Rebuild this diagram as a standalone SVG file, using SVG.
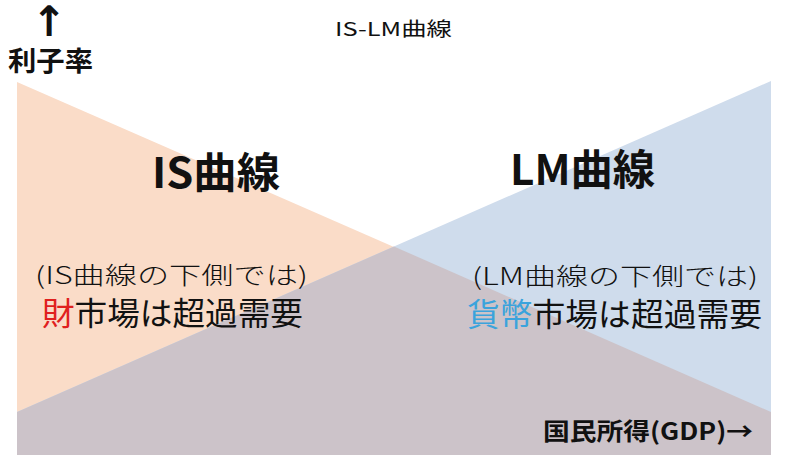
<svg xmlns="http://www.w3.org/2000/svg" width="786" height="469" viewBox="0 0 786 469">
<style>
text{font-family:"Noto Sans CJK JP","Noto Sans",sans-serif;fill:#111}
.b{font-weight:bold}
.sub{font-size:24px;font-weight:300}
.main{font-size:32px}
</style>
<rect width="786" height="469" fill="#fff"/>
<g id="regions">
<polygon id="is-region" points="17,82 771,412 771,455 17,455" fill="#FADCC8"/>
<polygon id="lm-region" points="17,412 771,81 771,455 17,455" fill="#CFDCEC"/>
<polygon id="overlap" points="17,412 394,246.5 771,412 771,455 17,455" fill="#CCC3C9"/>
</g>
<g id="title"><text x="335" y="36" font-size="19" textLength="117" lengthAdjust="spacingAndGlyphs">IS-LM曲線</text></g>
<g id="y-axis">
<text x="49" y="36" font-size="42" class="b" text-anchor="middle" style="font-family:'DejaVu Sans',sans-serif">↑</text>
<text x="8" y="71" font-size="27" class="b" textLength="85" lengthAdjust="spacingAndGlyphs">利子率</text>
</g>
<g id="x-axis"><text x="543" y="440" font-size="24" class="b" textLength="210" lengthAdjust="spacingAndGlyphs">国民所得(GDP)→</text></g>
<g id="is-curve">
<text x="152" y="188" font-size="42" class="b" textLength="128" lengthAdjust="spacingAndGlyphs">IS曲線</text>
<text x="35" y="284" class="sub" textLength="273" lengthAdjust="spacingAndGlyphs">(IS曲線の下側では)</text>
<text x="42" y="325" class="main" textLength="261" lengthAdjust="spacingAndGlyphs"><tspan fill="#E0201E">財</tspan>市場は超過需要</text>
</g>
<g id="lm-curve">
<text x="510" y="185" font-size="42" class="b" textLength="145" lengthAdjust="spacingAndGlyphs">LM曲線</text>
<text x="472" y="285" class="sub" textLength="286" lengthAdjust="spacingAndGlyphs">(LM曲線の下側では)</text>
<text x="467" y="326" class="main" textLength="295" lengthAdjust="spacingAndGlyphs"><tspan fill="#3BA3DC">貨幣</tspan>市場は超過需要</text>
</g>
</svg>
